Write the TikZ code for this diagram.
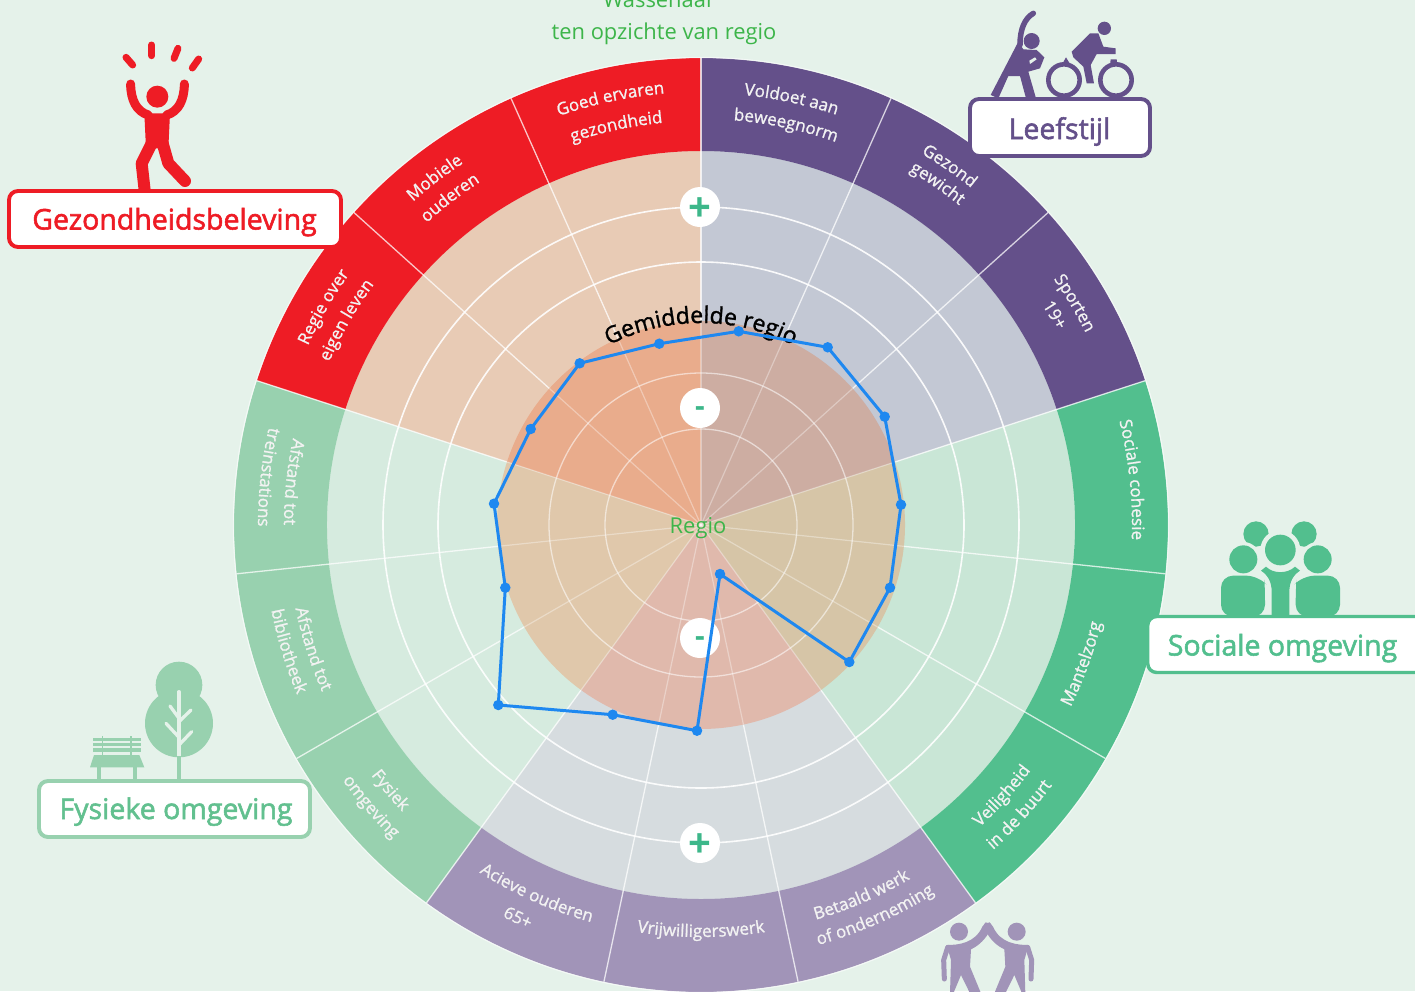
\documentclass[tikz,border=0pt]{standalone}
\usepackage{fontspec}
\setmainfont{Open Sans}
\usetikzlibrary{decorations.text}
\definecolor{bg}{HTML}{E5F2EA}
\definecolor{cRed}{HTML}{EE1C25}
\definecolor{cPur}{HTML}{64508A}
\definecolor{cGrn}{HTML}{52BF8E}
\definecolor{cLgr}{HTML}{98D1AF}
\definecolor{cLtx}{HTML}{62C08F}
\definecolor{cLpu}{HTML}{A194B8}
\definecolor{iRed}{HTML}{E8CBB5}
\definecolor{iPur}{HTML}{C3C8D4}
\definecolor{iGrn}{HTML}{C9E6D6}
\definecolor{iLgr}{HTML}{D6EBDF}
\definecolor{iLpu}{HTML}{D6DCDF}
\definecolor{bRed}{HTML}{E9AC8C}
\definecolor{bPur}{HTML}{CDADA2}
\definecolor{bGrn}{HTML}{D6C5A7}
\definecolor{bLgr}{HTML}{E0C8AB}
\definecolor{bLpu}{HTML}{E0B9AC}
\definecolor{cTxt}{HTML}{3DB54A}
\definecolor{cPm}{HTML}{3DB78A}
\definecolor{cLine}{HTML}{1E88F0}
\newcommand\fs[1]{\fontsize{#1}{#1}\selectfont}
\newcommand\heavy[1]{\special{pdf:code q 2 Tr 0.55 w}#1\special{pdf:code Q}}
\newcommand\sect[5]{\fill[#5] (#1:#3) arc[start angle=#1,end angle=#2,radius=#3] -- (#2:#4) arc[start angle=#2,end angle=#1,radius=#4] -- cycle;}
\newcommand\cw[3]{\pgfmathsetmacro\aa{#1+45}\pgfmathsetmacro\bb{#1-45}%
  \path[decorate,decoration={text along path,text align=center,text={|\fs{17}\color{white!90!gray}\special{pdf:code 2 Tr 0.2 w}|#3}}] (\aa:#2) arc[start angle=\aa,end angle=\bb,radius=#2];}
\newcommand\ccw[3]{\pgfmathsetmacro\aa{#1-45}\pgfmathsetmacro\bb{#1+45}%
  \path[decorate,decoration={text along path,text align=center,text={|\fs{17}\color{white!90!gray}\special{pdf:code 2 Tr 0.2 w}|#3}}] (\aa:#2) arc[start angle=\aa,end angle=\bb,radius=#2];}
\tikzset{
  lbox/.style={draw=#1,fill=white,line width=3.9pt,rounded corners=9pt,inner sep=0pt},
  ltext/.style={text=#1,anchor=base,inner sep=0pt,font=\fs{28.5}},
  pm/.style={circle,fill=white,minimum size=40pt,inner sep=0pt,text=cPm},
  dot/.style={circle,fill=cLine,minimum size=10.5pt,inner sep=0pt},
  ic/.style={x=.33333pt,y=-.33333pt}
}
\begin{document}
\begin{tikzpicture}[x=1pt,y=-1pt]
\clip (0,0) rectangle (1415,991);
\fill[bg] (0,0) rectangle (1415,991);

% wheel
\begin{scope}[shift={(701,525)},y=1pt]
  \sect{90}{162}{0}{374}{iRed}
  \sect{18}{90}{0}{374}{iPur}
  \sect{-54}{18}{0}{374}{iGrn}
  \sect{-126}{-54}{0}{374}{iLpu}
  \sect{162}{234}{0}{374}{iLgr}
  \sect{90}{162}{374}{467}{cRed}
  \sect{18}{90}{374}{467}{cPur}
  \sect{-54}{18}{374}{467}{cGrn}
  \sect{-126}{-54}{374}{467}{cLpu}
  \sect{162}{234}{374}{467}{cLgr}
  \draw[white,opacity=.6,line width=1.2pt] (0,0) circle[radius=467.5];
  \foreach \r in {318,263}{\draw[white,opacity=.9,line width=1.6pt] (0,0) circle[radius=\r];}
  \foreach \a in {90,66,42,18,-6,-30,-54,-78,-102,-126,-150,-174,162,138,114}{\draw[white,opacity=.75,line width=1.3pt] (\a:204) -- (\a:467);}
  % average region
  \sect{90}{162}{0}{204}{bRed}
  \sect{18}{90}{0}{204}{bPur}
  \sect{-54}{18}{0}{204}{bGrn}
  \sect{-126}{-54}{0}{204}{bLpu}
  \sect{162}{234}{0}{204}{bLgr}
  \foreach \r in {152,96}{\draw[white,opacity=.55,line width=1.3pt] (0,0) circle[radius=\r];}
  \foreach \a in {90,66,42,18,-6,-30,-54,-78,-102,-126,-150,-174,162,138,114}{\draw[white,opacity=.35,line width=1.2pt] (0,0) -- (\a:204);}
  % curved labels
  \cw{102}{433}{Goed ervaren}
  \cw{102}{404}{gezondheid}
  \cw{127.5}{433}{Mobiele}
  \cw{127.5}{408}{ouderen}
  \cw{150}{432}{Regie over}
  \cw{150}{406}{eigen leven}
  \cw{78}{432}{Voldoet aan}
  \cw{78}{406}{beweegnorm}
  \cw{55.3}{432}{Gezond}
  \cw{55.3}{411}{gewicht}
  \cw{30.7}{430}{Sporten}
  \cw{30.7}{406}{19+}
  \cw{6}{431}{Sociale cohesie}
  \ccw{-20}{412}{Mantelzorg}
  \ccw{-42}{411}{Veiligheid}
  \ccw{-42.3}{437}{in de buurt}
  \ccw{-66.6}{411}{Betaald werk}
  \ccw{-66}{436}{of onderneming}
  \ccw{-90}{412}{Vrijwilligerswerk}
  \ccw{-114}{412}{Acieve ouderen}
  \ccw{-115}{439}{65+}
  \ccw{-139.5}{414}{Fysiek}
  \ccw{-139.5}{440}{omgeving}
  \ccw{-162.3}{414}{Afstand tot}
  \ccw{-163}{438}{bibliotheek}
  \ccw{-186}{417}{Afstand tot}
  \ccw{-186.3}{443}{treinstations}
  \path[decorate,decoration={text along path,text align=center,text={|\fs{23}\color{black}\special{pdf:code 2 Tr 0.3 w}|Gemiddelde regio}}] (140:202) arc[start angle=140,end angle=40,radius=202];
\end{scope}

% plus and minus markers
\node[pm,font=\bfseries\fs{40}] (plusTop) at (700,207) {\raisebox{-14pt}[0pt][0pt]{+}};
\node[pm,font=\bfseries\fs{30}] (minusTop) at (700,408) {\raisebox{-8pt}[0pt][0pt]{-}};
\node[pm,font=\bfseries\fs{30}] (minusBot) at (700,638) {\raisebox{-8pt}[0pt][0pt]{-}};
\node[pm,font=\bfseries\fs{40}] (plusBot) at (700,843) {\raisebox{-14pt}[0pt][0pt]{+}};

% headings
\node[anchor=base,inner sep=0pt,text=cTxt,font=\fs{21.9}] (t1) at (659,7) {Wassenaar};
\node[anchor=base,inner sep=0pt,text=cTxt,font=\fs{21.9}] (t2) at (664,39) {ten opzichte van regio};
\node[anchor=base,inner sep=0pt,text=cTxt,font=\fs{21.9}] (t3) at (698,533) {Regio};

% data polygon
\foreach \i/\p in {1/{738.7,331.3},2/{827.7,347.3},3/{884.7,416.7},4/{901,504.7},5/{890,587.7},6/{849.3,662},7/{720,574},8/{697,730.7},9/{612.7,714.7},10/{498.3,705},11/{505.3,587.7},12/{494,503.7},13/{530.7,429},14/{579.7,363.3},15/{659.3,343.7}}{\coordinate (d\i) at (\p);}
\draw[cLine,line width=3pt,line join=round] (d1)--(d2)--(d3)--(d4)--(d5)--(d6)--(d7)--(d8)--(d9)--(d10)--(d11)--(d12)--(d13)--(d14)--(d15)--cycle;
\foreach \i in {1,...,15}{\node[dot] (m\i) at (d\i) {};}

% Gezondheidsbeleving icon
\begin{scope}[ic]
  \fill[cRed] (472,290) circle[radius=33];
  \begin{scope}[cRed,line cap=round,line join=round]
  \draw[line width=7pt] (378,172)--(398,195);
  \draw[line width=7pt] (455,135)--(455,167);
  \draw[line width=7pt] (534,145)--(522,175);
  \draw[line width=7pt] (596,177)--(577,204);
  \draw[line width=9pt] (392,252) .. controls (392,300) and (410,335) .. (445,345);
  \draw[line width=9pt] (553,252) .. controls (553,300) and (535,335) .. (500,345);
  \fill (433,340)--(510,340)--(505,445)--(438,445)--cycle;
  \draw[line width=12pt] (488,430)--(505,490)--(555,543);
  \draw[line width=12pt] (455,430)--(425,490)--(435,580);
  \end{scope}
\end{scope}
\node[lbox=cRed,minimum width=332pt,minimum height=56pt] (b1) at (175,219) {};
\node[ltext=cRed] (l1) at (174.5,229.5) {\heavy{Gezondheidsbeleving}};

% Leefstijl icon
\begin{scope}[shift={(940,0)},ic]
  \fill[cPur] (275,123) circle[radius=24];
  \fill[cPur] (493,85) circle[radius=20];
  \draw[cPur,line width=5.5pt,line cap=round] (280,40) .. controls (255,55) and (240,85) .. (240,135);
  \fill[cPur] (235,125)--(250,148)--(290,150)--(313,172)--(300,205)--(265,215)--(288,295)--(258,295)--(240,228)--(205,228)--(175,295)--(152,285)--cycle;
  \fill[bg] (268,182)--(285,172)--(290,178)--(270,192)--cycle;
  \draw[cPur,line width=4.6pt] (372,240) circle[radius=47];
  \draw[cPur,line width=4.6pt] (528,240) circle[radius=47];
  \fill[cPur] (365,195)--(378,172)--(392,195)--cycle;
  \fill[cPur] (510,195)--(512,178)--(530,178)--(532,195)--cycle;
  \fill[cPur] (395,155)--(450,100)--(475,100)--(490,140)--(527,145)--(527,162)--(470,162)--(452,195)--(462,250)--(440,250)--(430,200)--(400,172)--cycle;
\end{scope}
\node[lbox=cPur,minimum width=180pt,minimum height=57pt] (b2) at (1060,127.5) {};
\node[ltext=cPur] (l2) at (1059.5,139) {\heavy{Leefstijl}};

% Sociale omgeving icon
\begin{scope}[shift={(1130,510)},ic]
  \fill[cGrn] (378,72) circle[radius=38];
  \fill[cGrn] (522,72) circle[radius=38];
  \fill[bg] (340,148) circle[radius=52];
  \fill[bg] (563,148) circle[radius=52];
  \fill[bg] (451,120) circle[radius=60];
  \fill[cGrn] (451,120) circle[radius=46];
  \fill[cGrn] (340,148) circle[radius=42];
  \fill[cGrn] (563,148) circle[radius=42];
  \fill[cGrn,rounded corners=12pt] (273,320)--(273,197)--(385,197) to[bend left=20] (405,245)--(405,320)--cycle;
  \fill[cGrn,rounded corners=12pt] (630,320)--(630,197)--(518,197) to[bend right=20] (497,245)--(497,320)--cycle;
  \fill[cGrn] (393,182)--(408,170) .. controls (430,192) and (472,192) .. (495,170)--(510,182) .. controls (490,195) and (478,215) .. (478,245)--(478,320)--(425,320)--(425,245) .. controls (425,215) and (413,195) .. (393,182)--cycle;
\end{scope}
\node[lbox=cGrn,minimum width=300pt,minimum height=56pt,line width=3.4pt,anchor=west] (b3) at (1146,644.5) {};
\node[ltext=cGrn] (l3) at (1282.5,655.5) {\heavy{Sociale omgeving}};

% Fysieke omgeving icon
\begin{scope}[shift={(20,650)},ic]
  \fill[cLgr] (477,105) circle[radius=70];
  \fill[cLgr] (477,220) circle[radius=102];
  \draw[bg,line width=3.3pt,line cap=round] (477,125)--(477,320);
  \draw[bg,line width=3.3pt,line cap=round] (450,168)--(477,205);
  \draw[bg,line width=3.3pt,line cap=round] (513,180)--(477,215);
  \draw[bg,line width=3.3pt,line cap=round] (438,220)--(477,262);
  \draw[bg,line width=3.3pt,line cap=round] (515,245)--(477,285);
  \draw[cLgr,line width=3.3pt] (477,318)--(477,392);
  \foreach \y in {268,283,300}{\fill[cLgr] (220,\y-5) rectangle (362,\y+5);}
  \draw[cLgr,line width=1.6pt] (248,258)--(248,320);
  \draw[cLgr,line width=1.6pt] (333,258)--(333,320);
  \fill[cLgr] (222,315)--(358,315)--(373,352)--(210,352)--cycle;
  \draw[cLgr,line width=3.6pt] (237,350)--(237,392);
  \draw[cLgr,line width=3.6pt] (345,350)--(345,392);
\end{scope}
\node[lbox=cLgr,minimum width=271pt,minimum height=56pt] (b4) at (174.5,809) {};
\node[ltext=cLtx] (l4) at (176,819) {\heavy{Fysieke omgeving}};

% high-five icon
\begin{scope}[shift={(925,910)},ic]
  \fill[cLpu] (102,65) circle[radius=27];
  \fill[cLpu] (65,105) .. controls (100,105) and (150,100) .. (172,50)--(182,37)--(198,42)--(190,70) .. controls (175,95) and (155,110) .. (138,118)--(135,170)--(168,250)--(135,250)--(108,195)--(85,250)--(75,250)--(78,150)--cycle;
  \draw[cLpu,line width=5pt,line cap=round,line join=round] (68,112)--(56,150)--(58,207);
\end{scope}
\begin{scope}[shift={(1050.33,910)},x=-.33333pt,y=-.33333pt]
  \fill[cLpu] (101,65) circle[radius=27];
  \fill[cLpu] (65,105) .. controls (100,105) and (150,100) .. (172,50)--(182,37)--(198,42)--(190,70) .. controls (175,95) and (155,110) .. (138,118)--(135,170)--(168,250)--(135,250)--(108,195)--(85,250)--(75,250)--(78,150)--cycle;
  \draw[cLpu,line width=5pt,line cap=round,line join=round] (68,112)--(56,150)--(58,207);
\end{scope}
\end{tikzpicture}
\end{document}
